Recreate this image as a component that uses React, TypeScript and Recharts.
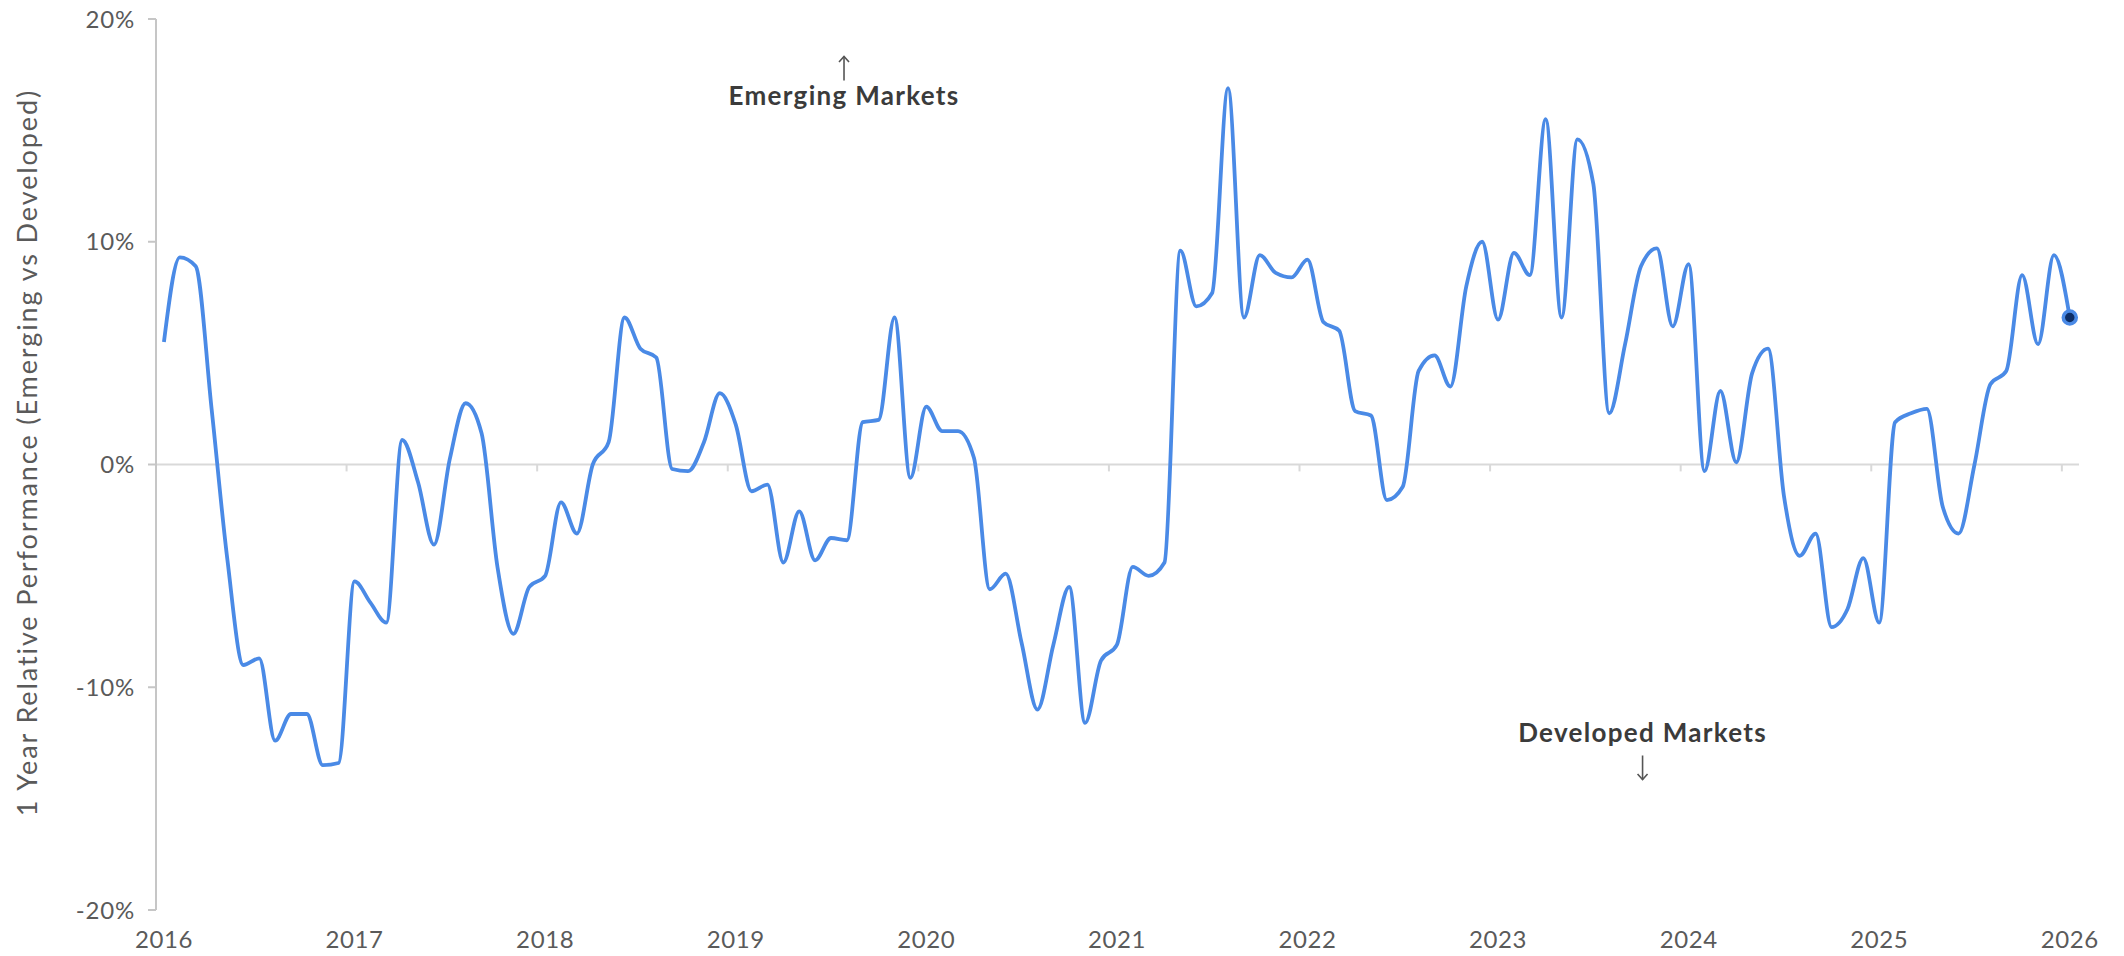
import React from 'react';
import { LineChart, Line, XAxis, YAxis, ReferenceLine, ReferenceDot } from 'recharts';

// monthly 1y relative performance, EM vs DM (%), one value per month, mid-month
const perf2016 = [5.5, 9.3, 8.9, 2.5, -4.3, -9.0, -8.7, -12.4, -11.2, -11.2, -13.5, -13.4];
const perf2017 = [-5.25, -6.2, -7.1, 1.1, -0.8, -3.6, 0.25, 2.75, 1.4, -4.6, -7.6, -5.5];
const perf2018 = [-5.0, -1.7, -3.1, 0.0, 1.0, 6.6, 5.2, 4.8, -0.2, -0.3, 1.0, 3.2];
const perf2019 = [1.8, -1.2, -0.9, -4.4, -2.1, -4.3, -3.3, -3.4, 1.9, 2.0, 6.6, -0.6];
const perf2020 = [2.6, 1.5, 1.5, 0.3, -5.6, -4.9, -8.0, -11.0, -8.1, -5.5, -11.6, -8.8];
const perf2021 = [-8.1, -4.6, -5.0, -4.4, 9.6, 7.1, 7.7, 16.9, 6.6, 9.4, 8.6, 8.4];
const perf2022 = [9.2, 6.4, 6.0, 2.4, 2.2, -1.6, -1.0, 4.2, 4.9, 3.5, 8.0, 10.0];
const perf2023 = [6.5, 9.5, 8.5, 15.5, 6.6, 14.6, 12.6, 2.3, 5.4, 8.9, 9.7, 6.2];
const perf2024 = [9.0, -0.3, 3.3, 0.1, 4.1, 5.2, -1.4, -4.1, -3.1, -7.3, -6.5, -4.2];
const perf2025 = [-7.1, 1.9, 2.3, 2.5, -1.9, -3.1, 0.0, 3.6, 4.2, 8.5, 5.4, 9.4];
const perf2026 = [6.6];

const yearTicks = [2016, 2017, 2018, 2019, 2020, 2021, 2022, 2023, 2024, 2025, 2026];
const pctTicks = [-20, -10, 0, 10, 20];

const yTitle = '1 Year Relative Performance (Emerging vs Developed)';
const emLabel = { text: 'Emerging Markets', x: 2019.61, y: 16.12 };
const dmLabel = { text: 'Developed Markets', x: 2023.8, y: -12.48 };

const allValues = [
  ...perf2016, ...perf2017, ...perf2018, ...perf2019, ...perf2020, ...perf2021,
  ...perf2022, ...perf2023, ...perf2024, ...perf2025, ...perf2026,
];
const data = allValues.map((v, i) => ({ t: 2016 + (i + 0.5) / 12, v }));
const lastIdx = data.length - 1;

const FONT = "Lato, 'Open Sans', sans-serif";
const BLUE = '#4a8ae6';
const AXIS = '#c6c6c6';
const GRID = '#d9d9d9';
const TEXT = '#5a5a5a';

const YearTick = (props: any) => {
  const { x, y, payload } = props;
  return (
    <text x={x + 8} y={y + 38} textAnchor="middle" fontSize={24} letterSpacing={0.6} fill={TEXT} fontFamily={FONT}>
      {payload.value}
    </text>
  );
};

const YTitle = (props: any) => {
  const { viewBox } = props;
  const cx = 37;
  const cy = viewBox.y + viewBox.height / 2 - 12;
  return (
    <text
      x={cx}
      y={cy}
      transform={`rotate(-90 ${cx} ${cy})`}
      textAnchor="middle"
      fontSize={27}
      letterSpacing={1.9}
      fill={TEXT}
      fontFamily={FONT}
    >
      {yTitle}
    </text>
  );
};

const Annotation = (up: boolean, text: string) => (props: any) => {
  const { cx, cy } = props;
  const top = up ? cy - 49 : cy + 13;
  const bottom = up ? cy - 25 : cy + 37;
  const tip = up ? top : bottom;
  const d = up ? 5.5 : -5.5;
  return (
    <g>
      <text
        x={cx}
        y={cy}
        textAnchor="middle"
        fontSize={26}
        fontWeight={700}
        letterSpacing={1.3}
        fill="#3b3b3b"
        fontFamily={FONT}
      >
        {text}
      </text>
      <line x1={cx} y1={top} x2={cx} y2={bottom} stroke="#555" strokeWidth={1.6} />
      <polyline
        points={`${cx - 5},${tip + d} ${cx},${tip} ${cx + 5},${tip + d}`}
        fill="none"
        stroke="#555"
        strokeWidth={1.6}
      />
    </g>
  );
};

const EndDot = (props: any) => {
  const { cx, cy, index } = props;
  if (index !== lastIdx) return <g key={`d${index}`} />;
  return <circle key={`d${index}`} cx={cx} cy={cy} r={6.5} fill="#0d2e66" stroke={BLUE} strokeWidth={3.5} />;
};

export default function App() {
  return (
    <div style={{ position: 'absolute', left: 0, top: 0, background: '#fff' }}>
      <LineChart width={2124} height={956} data={data} margin={{ top: 19, right: 45, bottom: 0, left: 0 }}>
        <XAxis
          dataKey="t"
          type="number"
          domain={[2016, 2026.09]}
          ticks={yearTicks}
          interval={0}
          axisLine={false}
          tickLine={false}
          tickSize={0}
          tickMargin={0}
          height={46}
          tick={<YearTick />}
        />
        <YAxis
          type="number"
          domain={[-20, 20]}
          ticks={pctTicks}
          width={156}
          axisLine={{ stroke: AXIS, strokeWidth: 2 }}
          tickLine={{ stroke: AXIS, strokeWidth: 2 }}
          tickSize={8}
          tickMargin={13}
          tickFormatter={(v: number) => `${v}%`}
          tick={{ fontSize: 24, fill: TEXT, fontFamily: FONT, letterSpacing: 0.8 }}
          label={<YTitle />}
        />
        <ReferenceLine y={0} stroke={GRID} strokeWidth={2} />
        {yearTicks.map((yr) => (
          <ReferenceLine
            key={yr}
            segment={[{ x: yr, y: 0 }, { x: yr, y: -0.31 }]}
            stroke={GRID}
            strokeWidth={2}
            ifOverflow="visible"
          />
        ))}
        <ReferenceDot x={emLabel.x} y={emLabel.y} r={0} ifOverflow="visible" shape={Annotation(true, emLabel.text)} />
        <ReferenceDot x={dmLabel.x} y={dmLabel.y} r={0} ifOverflow="visible" shape={Annotation(false, dmLabel.text)} />
        <Line
          type="monotone"
          dataKey="v"
          stroke={BLUE}
          strokeWidth={3.8}
          dot={EndDot}
          activeDot={false}
          isAnimationActive={false}
        />
      </LineChart>
    </div>
  );
}
